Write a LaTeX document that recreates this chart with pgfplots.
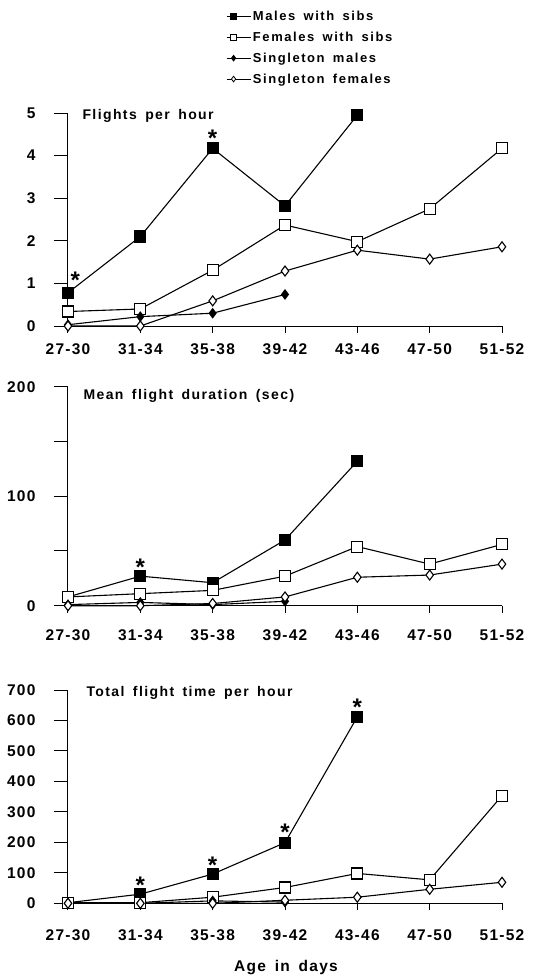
\documentclass[border=0pt]{standalone}
\usepackage{fontspec}
\usepackage{pgfplots}
\pgfplotsset{compat=1.18}
\setmainfont{Liberation Sans}
\newfontfamily\lsp[LetterSpace=8, WordSpace=1.6]{Liberation Sans}
\newfontfamily\lspt[LetterSpace=10, WordSpace=1.6]{Liberation Sans}
\newfontfamily\lspw[LetterSpace=12, WordSpace=1.6]{Liberation Sans}
\newcommand\tickf{\lsp\bfseries\fontsize{15.5}{17}\selectfont}
\newcommand\titf{\lspt\bfseries\fontsize{14}{16}\selectfont}
\newcommand\legf{\lspw\bfseries\fontsize{13}{15}\selectfont}
\newcommand\astf{\bfseries\fontsize{24}{24}\selectfont}

\tikzset{ast/.style={font=\astf, yshift=-5pt}}

\pgfplotsset{
  panel/.style={
    scale only axis, width=434pt,
    xmin=0, xmax=6, clip=false,
    axis x line=bottom, axis y line=left,
    axis line style={-, line width=1pt},
    tick align=outside, major tick length=14pt,
    every tick/.style={black, line width=1pt},
    xtick={0,...,6},
    xticklabels={27-30,31-34,35-38,39-42,43-46,47-50,51-52},
    xtick style={/pgfplots/major tick length=7pt},
    ticklabel style={font=\tickf},
    /pgf/number format/assume math mode=true,
    yticklabel style={xshift=-15pt},
    every axis plot/.append style={black, line width=1.1pt},
  },
  ms/.style={mark=square*, mark size=5.5pt, mark options={fill=black}},
  fs/.style={mark=square*, mark size=5.5pt, mark options={fill=white}},
  sm/.style={mark=diamond*, mark size=4.5pt, mark options={fill=black}},
  sf/.style={mark=diamond*, mark size=5pt, mark options={fill=white}},
}

\begin{document}
\begin{tikzpicture}
\useasboundingbox (0,0) rectangle (549pt,-980pt);

% Flights per hour
\begin{axis}[panel, at={(68pt,-326pt)}, anchor=south west, height=213pt,
  ymin=0, ymax=5, ytick={0,...,5},
  legend style={at={(rel axis cs:0.364,1.49)}, anchor=north west, draw=none, fill=none,
    font=\legf, row sep=6pt, inner sep=0pt, nodes={inner sep=2pt}},
  legend cell align=left,
  legend image code/.code={\draw[mark repeat=2, mark phase=2, #1, mark size=2.8pt, line width=0.8pt]
    plot coordinates {(0pt,0pt) (7pt,0pt) (24pt,0pt)};}]
\addplot[ms] coordinates {(0,0.78) (1,2.10) (2,4.17) (3,2.82) (4,4.95)};
\addlegendentry{Males with sibs}
\addplot[fs] coordinates {(0,0.34) (1,0.40) (2,1.31) (3,2.37) (4,1.98) (5,2.75) (6,4.17)};
\addlegendentry{Females with sibs}
\addplot[sm] coordinates {(0,0.03) (1,0.22) (2,0.30) (3,0.74)};
\addlegendentry{Singleton males}
\addplot[sf] coordinates {(0,0) (1,0) (2,0.59) (3,1.29) (4,1.78) (5,1.57) (6,1.86)};
\addlegendentry{Singleton females}
\node[font=\titf, anchor=west] at (rel axis cs:0,1) [xshift=11pt, yshift=-3pt] {Flights per hour};
\node[ast] at (axis cs:0.1,1.2) {*};
\node[ast] at (axis cs:2,4.53) {*};
\end{axis}

% Mean flight duration
\begin{axis}[panel, at={(68pt,-605.7pt)}, anchor=south west, height=219pt,
  ymin=0, ymax=200, ytick={0,50,100,150,200}, yticklabels={0,,100,,200},
  xticklabel style={yshift=-6pt}]
\addplot[ms] coordinates {(0,8) (1,27) (2,21) (3,60) (4,132)};
\addplot[fs] coordinates {(0,8) (1,11) (2,14) (3,27) (4,54) (5,38) (6,56)};
\addplot[sm] coordinates {(0,1) (1,3) (2,1) (3,4)};
\addplot[sf] coordinates {(0,0) (1,0) (2,2) (3,8) (4,26) (5,28) (6,38)};
\node[font=\titf, anchor=west] at (rel axis cs:0,1) [xshift=12pt, yshift=-9pt] {Mean flight duration (sec)};
\node[ast] at (axis cs:1,40) {*};
\end{axis}

% Total flight time per hour
\begin{axis}[panel, at={(68pt,-903.3pt)}, anchor=south west, height=213.3pt,
  ymin=0, ymax=700, ytick={0,100,...,700},
  xticklabel style={yshift=-9pt}]
\addplot[ms] coordinates {(0,2) (1,30) (2,96) (3,199) (4,612)};
\addplot[fs] coordinates {(0,2) (1,2) (2,20) (3,52) (4,98) (5,77) (6,353)};
\addplot[sm] coordinates {(0,0) (1,0) (2,8) (3,4)};
\addplot[sf] coordinates {(0,0) (1,0) (2,0) (3,10) (4,20) (5,46) (6,69)};
\node[font=\titf, anchor=west] at (rel axis cs:0,1) [xshift=15pt, yshift=-3pt] {Total flight time per hour};
\node[ast] at (axis cs:1,76) {*};
\node[ast] at (axis cs:2,142) {*};
\node[ast] at (axis cs:3,251) {*};
\node[ast] at (axis cs:4,661) {*};
\end{axis}

\node[font=\tickf] at (286pt,-968pt) {Age in days};
\end{tikzpicture}
\end{document}
